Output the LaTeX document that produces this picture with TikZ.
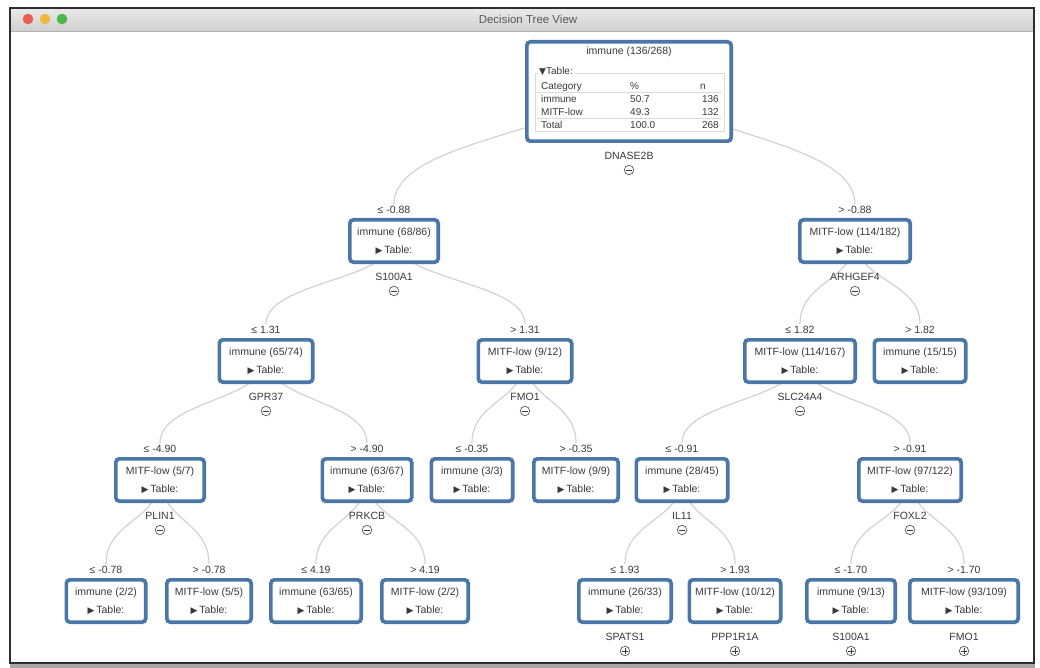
\documentclass[tikz,border=0pt]{standalone}
\usepackage{fontspec}
\setmainfont{Liberation Sans}
\newfontfamily\symf{DejaVu Sans}
\usetikzlibrary{calc}
\pgfdeclarelayer{frame}
\pgfdeclarelayer{links}
\pgfsetlayers{frame,links,main}

\definecolor{boxblue}{HTML}{4A77A8}
\definecolor{linkgray}{HTML}{D2D2D2}
\definecolor{txt}{HTML}{3A3A3A}
\definecolor{rulegray}{HTML}{DADADA}
\definecolor{barTop}{HTML}{E8E8E8}
\definecolor{barBot}{HTML}{D0D0D0}
\definecolor{winedge}{HTML}{2E2E2E}
\definecolor{lightred}{HTML}{EC5B52}
\definecolor{lightyellow}{HTML}{EDB93C}
\definecolor{lightgreen}{HTML}{4DB848}

\tikzset{
  tbox/.style={draw=boxblue, line width=3.7pt, fill=white, rounded corners=3.5pt,
    inner sep=0pt, minimum height=42.3pt},
  ttext/.style={text=txt, font=\fontsize{10.5}{12}\selectfont, inner sep=0pt},
  tabtext/.style={text=txt, font=\fontsize{10}{12}\selectfont, inner sep=0pt},
  link/.style={draw=linkgray, line width=1.2pt},
  tog/.style={circle, draw=txt!85, line width=0.7pt, minimum size=9.5pt, inner sep=0pt},
  minus/.style={tog, path picture={
    \draw[txt, line width=0.7pt] ([xshift=2pt]path picture bounding box.west)
      -- ([xshift=-2pt]path picture bounding box.east);}},
  plus/.style={tog, path picture={
    \draw[txt, line width=0.7pt] ([xshift=2pt]path picture bounding box.west)
      -- ([xshift=-2pt]path picture bounding box.east);
    \draw[txt, line width=0.7pt] ([yshift=-2pt]path picture bounding box.north)
      -- ([yshift=2pt]path picture bounding box.south);}},
}

\newcommand\tri{{\symf\fontsize{9}{9}\selectfont ▶}}
\newcommand\downtri{{\symf\fontsize{9}{9}\selectfont ▼}}

% tree node: name, centre x, top y, width, class text, split condition
\newcommand\treebox[6]{%
  \node[tbox, minimum width={(#4-3.7)*1pt}] (#1) at (#2,#3+23) {};
  \node[ttext] (#1-title) at (#2,#3+15) {#5};
  \node[ttext] (#1-table) at (#2,#3+32) {\tri\,Table:};
  \node[ttext] (#1-cond) at (#2,#3-8) {#6};
  \coordinate (#1-src) at (#2,#3+20);
  \coordinate (#1-tgt) at (#2,#3-14);
}
% split attribute under a node: name, centre x, top y, attribute, toggle style
\newcommand\tbranch[5]{%
  \node[ttext] (#1-feat) at (#2,#3+59) {#4};
  \node[#5] (#1-tog) at (#2,#3+73) {};
}
% parent-to-child connector
\newcommand\tlink[2]{%
  \draw[link] (#1-src) .. controls ($(#1-src)!0.5!(#1-src|-#2-tgt)$)
    and ($(#2-tgt)!0.5!(#2-tgt|-#1-src)$) .. (#2-tgt);}

\begin{document}
\begin{tikzpicture}[x=1pt,y=-1pt]
\useasboundingbox (0,0) rectangle (1040,668);

% window
\begin{pgfonlayer}{frame}
  \fill[white] (0,0) rectangle (1040,668);
  \fill[barBot!80!black] (10,662) rectangle (1035,668);
  \draw[winedge, line width=2.5pt, fill=white] (10,8) rectangle (1034,663);
  \shade[top color=barTop, bottom color=barBot] (11.3,9.3) rectangle (1032.7,31);
  \draw[black!30, line width=0.6pt] (11.3,31) -- (1032.7,31);
  \fill[lightred] (28,19) circle (5.3pt);
  \fill[lightyellow] (45,19) circle (5.3pt);
  \fill[lightgreen] (62,19) circle (5.3pt);
  \node[text=black!65, font=\fontsize{11.5}{13}\selectfont, inner sep=0pt] (wintitle) at (528,19) {Decision Tree View};
\end{pgfonlayer}

% root node with its class table
\node[tbox, minimum width=204.3pt, minimum height=99.3pt] (root) at (629,91.5) {};
\node[ttext] (root-title) at (629,52) {immune (136/268)};
\draw[rulegray, line width=0.8pt] (535,73) rectangle (724,131);
\node[tabtext, fill=white, inner sep=1pt, anchor=base west] (root-legend) at (538,74.5) {\downtri Table:};
\node[tabtext, anchor=base west] (h1) at (541,89.5) {Category};
\node[tabtext, anchor=base west] (h2) at (630,89.5) {\%};
\node[tabtext, anchor=base west] (h3) at (700,89.5) {n};
\draw[rulegray, line width=0.7pt] (537,92.5) -- (722,92.5);
\node[tabtext, anchor=base west] (c1) at (541,102.5) {immune};
\node[tabtext, anchor=base west] (p1) at (630,102.5) {50.7};
\node[tabtext, anchor=base east] (n1) at (719,102.5) {136};
\node[tabtext, anchor=base west] (c2) at (541,115.5) {MITF-low};
\node[tabtext, anchor=base west] (p2) at (630,115.5) {49.3};
\node[tabtext, anchor=base east] (n2) at (719,115.5) {132};
\draw[rulegray, line width=0.7pt] (537,118.5) -- (722,118.5);
\node[tabtext, anchor=base west] (c3) at (541,128.5) {Total};
\node[tabtext, anchor=base west] (p3) at (630,128.5) {100.0};
\node[tabtext, anchor=base east] (n3) at (719,128.5) {268};
\node[ttext] (root-feat) at (629,156) {DNASE2B};
\node[minus] (root-tog) at (629,170) {};
\coordinate (root-src) at (629,60);

% level 1
\treebox{a}{394}{218}{92}{immune (68/86)}{≤ -0.88}
\treebox{b}{855}{218}{114}{MITF-low (114/182)}{> -0.88}
\tbranch{a}{394}{218}{S100A1}{minus}
\tbranch{b}{855}{218}{ARHGEF4}{minus}

% level 2
\treebox{c}{266}{338}{97}{immune (65/74)}{≤ 1.31}
\treebox{d}{525}{338}{97}{MITF-low (9/12)}{> 1.31}
\treebox{e}{800}{338}{114}{MITF-low (114/167)}{≤ 1.82}
\treebox{f}{920}{338}{95}{immune (15/15)}{> 1.82}
\tbranch{c}{266}{338}{GPR37}{minus}
\tbranch{d}{525}{338}{FMO1}{minus}
\tbranch{e}{800}{338}{SLC24A4}{minus}

% level 3
\treebox{g}{160}{457}{92}{MITF-low (5/7)}{≤ -4.90}
\treebox{h}{367}{457}{93}{immune (63/67)}{> -4.90}
\treebox{i}{472}{457}{85}{immune (3/3)}{≤ -0.35}
\treebox{j}{576}{457}{88}{MITF-low (9/9)}{> -0.35}
\treebox{k}{682}{457}{95}{immune (28/45)}{≤ -0.91}
\treebox{l}{910}{457}{106}{MITF-low (97/122)}{> -0.91}
\tbranch{g}{160}{457}{PLIN1}{minus}
\tbranch{h}{367}{457}{PRKCB}{minus}
\tbranch{k}{682}{457}{IL11}{minus}
\tbranch{l}{910}{457}{FOXL2}{minus}

% level 4
\treebox{m}{106}{578}{83}{immune (2/2)}{≤ -0.78}
\treebox{n}{209}{578}{88}{MITF-low (5/5)}{> -0.78}
\treebox{o}{316}{578}{94}{immune (63/65)}{≤ 4.19}
\treebox{p}{425}{578}{90}{MITF-low (2/2)}{> 4.19}
\treebox{q}{625}{578}{96}{immune (26/33)}{≤ 1.93}
\treebox{r}{735}{578}{95}{MITF-low (10/12)}{> 1.93}
\treebox{s}{851}{578}{92}{immune (9/13)}{≤ -1.70}
\treebox{t}{964}{578}{112}{MITF-low (93/109)}{> -1.70}
\tbranch{q}{625}{578}{SPATS1}{plus}
\tbranch{r}{735}{578}{PPP1R1A}{plus}
\tbranch{s}{851}{578}{S100A1}{plus}
\tbranch{t}{964}{578}{FMO1}{plus}

% connectors, drawn beneath the boxes
\begin{pgfonlayer}{links}
  \tlink{root}{a} \tlink{root}{b}
  \tlink{a}{c} \tlink{a}{d}
  \tlink{b}{e} \tlink{b}{f}
  \tlink{c}{g} \tlink{c}{h}
  \tlink{d}{i} \tlink{d}{j}
  \tlink{e}{k} \tlink{e}{l}
  \tlink{g}{m} \tlink{g}{n}
  \tlink{h}{o} \tlink{h}{p}
  \tlink{k}{q} \tlink{k}{r}
  \tlink{l}{s} \tlink{l}{t}
\end{pgfonlayer}
\end{tikzpicture}
\end{document}
